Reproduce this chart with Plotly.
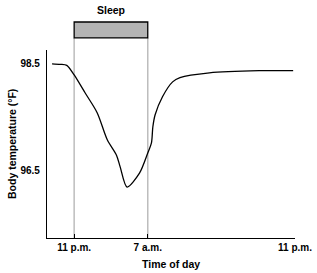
import plotly.graph_objects as go

# hours after 11 p.m.
hours = [-2.4, -1.5, -0.8, 0.0, 1.2, 2.5, 3.6, 4.6, 5.0, 5.75, 7.1, 8.0, 8.4, 8.55, 8.8, 9.6, 10.7, 11.5, 14.7, 20.1, 23.8]
temps = [98.5, 98.49, 98.47, 98.29, 97.95, 97.58, 97.07, 96.78, 96.56, 96.18, 96.44, 96.82, 97.01, 97.31, 97.54, 97.88, 98.16, 98.24, 98.33, 98.37, 98.37]

tick_vals = [0, 8, 24]
tick_text = ["11 p.m.", "7 a.m.", "11 p.m."]
y_ticks = [96.5, 98.5]
y_text = ["96.5", "98.5"]
sleep_start, sleep_end = 0, 8

font = dict(family="Liberation Sans, Arial, sans-serif", size=10, color="black")
title_font = dict(family="Liberation Sans, Arial, sans-serif", size=10.5, color="black")

fig = go.Figure()
fig.add_trace(go.Scatter(x=hours, y=temps, mode="lines",
                         line=dict(color="black", width=1.3, shape="spline", smoothing=0.8),
                         hoverinfo="skip", showlegend=False, cliponaxis=False))

# sleep markers
for xv in [sleep_start, sleep_end]:
    fig.add_shape(type="line", xref="x", yref="paper", x0=xv, x1=xv, y0=0, y1=1.064,
                  line=dict(color="#bdbdbd", width=1.5), layer="below")
fig.add_shape(type="rect", xref="x", yref="paper", x0=sleep_start, x1=sleep_end,
              y0=1.064, y1=1.149, fillcolor="#b4b4b4", line=dict(color="black", width=1.3))
fig.add_annotation(x=(sleep_start + sleep_end) / 2, y=1.213, xref="x", yref="paper",
                   text="<b>Sleep</b>", showarrow=False, font=title_font,
                   xanchor="center", yanchor="middle")
fig.add_annotation(x=-0.141, y=0.5, xref="paper", yref="paper", text="<b>Body temperature (°F)</b>",
                   textangle=-90, showarrow=False, font=title_font,
                   xanchor="center", yanchor="middle")
fig.add_annotation(x=0.5, y=-0.14, xref="paper", yref="paper", text="<b>Time of day</b>",
                   showarrow=False, font=title_font, xanchor="center", yanchor="middle")

fig.update_layout(
    width=317, height=273, margin=dict(l=47, r=22, t=50, b=35, autoexpand=False),
    plot_bgcolor="white", paper_bgcolor="white", font=font,
    xaxis=dict(range=[-2.95, 24], showgrid=False, zeroline=False, showline=True, automargin=False,
               linecolor="black", linewidth=1.3, ticks="inside", ticklen=4, tickcolor="black",
               tickwidth=1.3, tickvals=tick_vals,
               ticktext=["<b>%s</b>" % t for t in tick_text]),
    yaxis=dict(range=[95.22, 98.76], showgrid=False, zeroline=False, showline=True, automargin=False,
               linecolor="black", linewidth=1.3, ticks="", tickvals=y_ticks,
               ticktext=["<b>%s</b>" % t for t in y_text], ticklabelstandoff=4),
)
fig.write_html("out.html")
